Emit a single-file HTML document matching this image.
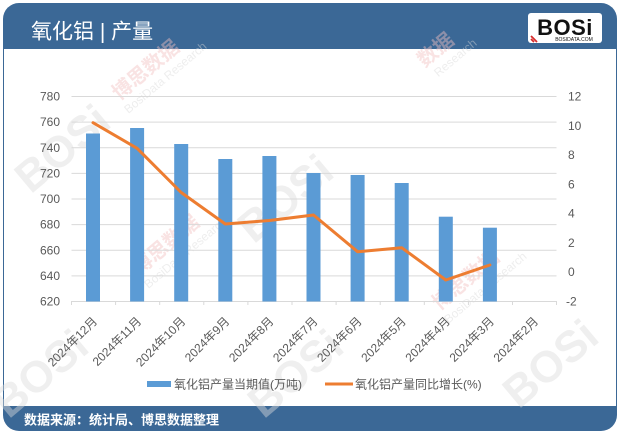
<!DOCTYPE html>
<html>
<head>
<meta charset="utf-8">
<style>
  html,body{margin:0;padding:0;background:#fff;}
  body{width:623px;height:434px;overflow:hidden;}
  svg{display:block;}
  text{font-family:"Liberation Sans","Noto Sans CJK SC",sans-serif;}
</style>
</head>
<body>
<svg width="623" height="434" viewBox="0 0 623 434" xmlns="http://www.w3.org/2000/svg">
  <!-- card -->
  <rect x="3" y="3" width="614" height="428" rx="16" ry="16" fill="#3b6896"/>
  <rect x="4" y="49" width="612" height="357" fill="#ffffff"/>

  <!-- watermarks -->
  <g opacity="0.45">
    <g transform="translate(72,160) rotate(-40)">
      <text x="0" y="0" font-size="44" font-weight="bold" fill="#dcdcdc" text-anchor="middle">BOSi</text>
    </g>
    <g transform="translate(150,75) rotate(-40)">
      <text x="0" y="0" font-size="20" font-weight="bold" fill="#f2c0c0" text-anchor="middle">博思数据</text>
      <text x="10" y="16" font-size="12" fill="#d8d8d8" text-anchor="middle" font-family="Liberation Serif">BosiData Research</text>
    </g>
    <g transform="translate(295,210) rotate(-40)">
      <text x="0" y="0" font-size="44" font-weight="bold" fill="#dcdcdc" text-anchor="middle">BOSi</text>
    </g>
    <g transform="translate(440,55) rotate(-40)">
      <text x="0" y="0" font-size="20" font-weight="bold" fill="#f2c0c0" text-anchor="middle">数据</text>
      <text x="10" y="16" font-size="12" fill="#d8d8d8" text-anchor="middle" font-family="Liberation Serif">Research</text>
    </g>
    <g transform="translate(170,250) rotate(-40)">
      <text x="0" y="0" font-size="20" font-weight="bold" fill="#f2c0c0" text-anchor="middle">博思数据</text>
      <text x="10" y="16" font-size="12" fill="#d8d8d8" text-anchor="middle" font-family="Liberation Serif">BosiData Research</text>
    </g>
    <g transform="translate(470,285) rotate(-40)">
      <text x="0" y="0" font-size="20" font-weight="bold" fill="#f2c0c0" text-anchor="middle">博思数据</text>
      <text x="10" y="16" font-size="12" fill="#d8d8d8" text-anchor="middle" font-family="Liberation Serif">BosiData Research</text>
    </g>
    <g transform="translate(50,385) rotate(-40)">
      <text x="0" y="0" font-size="44" font-weight="bold" fill="#dcdcdc" text-anchor="middle">BOSi</text>
    </g>
    <g transform="translate(305,385) rotate(-40)">
      <text x="0" y="0" font-size="44" font-weight="bold" fill="#dcdcdc" text-anchor="middle">BOSi</text>
    </g>
    <g transform="translate(560,375) rotate(-40)">
      <text x="0" y="0" font-size="44" font-weight="bold" fill="#dcdcdc" text-anchor="middle">BOSi</text>
    </g>
  </g>

  <!-- header title -->
  <text x="31" y="38.5" font-size="21" fill="#ffffff">氧化铝 | 产量</text>

  <!-- logo -->
  <rect x="528" y="13" width="74" height="30" rx="3" fill="#ffffff"/>
  <text x="565" y="35" font-size="22" font-weight="bold" fill="#111" text-anchor="middle" font-family="Liberation Sans" letter-spacing="0.5">BOSi</text>
  <text x="574" y="41" font-size="5" fill="#111" text-anchor="middle" font-family="Liberation Sans">BOSIDATA.COM</text>
  <line x1="531" y1="36" x2="537" y2="42" stroke="#d62b2b" stroke-width="1.8"/>
  <line x1="531" y1="39" x2="534" y2="42" stroke="#d62b2b" stroke-width="1.8"/>

  <!-- gridlines -->
  <g stroke="#d9d9d9" stroke-width="1">
    <line x1="71.5" y1="96.5" x2="556.5" y2="96.5"/>
    <line x1="71.5" y1="122.1" x2="556.5" y2="122.1"/>
    <line x1="71.5" y1="147.8" x2="556.5" y2="147.8"/>
    <line x1="71.5" y1="173.4" x2="556.5" y2="173.4"/>
    <line x1="71.5" y1="199" x2="556.5" y2="199"/>
    <line x1="71.5" y1="224.6" x2="556.5" y2="224.6"/>
    <line x1="71.5" y1="250.3" x2="556.5" y2="250.3"/>
    <line x1="71.5" y1="275.9" x2="556.5" y2="275.9"/>
    <line x1="71.5" y1="301.5" x2="556.5" y2="301.5"/>
  </g>
  <!-- x ticks -->
  <g stroke="#d9d9d9" stroke-width="1">
    <line x1="71.5" y1="301" x2="71.5" y2="305"/>
    <line x1="115.6" y1="301" x2="115.6" y2="305"/>
    <line x1="159.7" y1="301" x2="159.7" y2="305"/>
    <line x1="203.8" y1="301" x2="203.8" y2="305"/>
    <line x1="247.9" y1="301" x2="247.9" y2="305"/>
    <line x1="292" y1="301" x2="292" y2="305"/>
    <line x1="336.1" y1="301" x2="336.1" y2="305"/>
    <line x1="380.2" y1="301" x2="380.2" y2="305"/>
    <line x1="424.3" y1="301" x2="424.3" y2="305"/>
    <line x1="468.4" y1="301" x2="468.4" y2="305"/>
    <line x1="512.5" y1="301" x2="512.5" y2="305"/>
    <line x1="556.5" y1="301" x2="556.5" y2="305"/>
  </g>

  <!-- left axis labels -->
  <g font-size="12" fill="#595959" text-anchor="end">
    <text x="60" y="100.5">780</text>
    <text x="60" y="126.1">760</text>
    <text x="60" y="151.8">740</text>
    <text x="60" y="177.4">720</text>
    <text x="60" y="203">700</text>
    <text x="60" y="228.6">680</text>
    <text x="60" y="254.3">660</text>
    <text x="60" y="279.9">640</text>
    <text x="60" y="305.5">620</text>
  </g>
  <!-- right axis labels -->
  <g font-size="12" fill="#595959" text-anchor="start">
    <text x="568" y="100.5">12</text>
    <text x="568" y="129.8">10</text>
    <text x="568" y="159.1">8</text>
    <text x="568" y="188.4">6</text>
    <text x="568" y="217.6">4</text>
    <text x="568" y="246.9">2</text>
    <text x="568" y="276.2">0</text>
    <text x="566" y="305.5">-2</text>
  </g>

  <!-- bars -->
  <g fill="#5b9bd5">
    <rect x="86" y="133.5" width="14" height="168"/>
    <rect x="130.1" y="128" width="14" height="173.5"/>
    <rect x="174.2" y="144" width="14" height="157.5"/>
    <rect x="218.3" y="159" width="14" height="142.5"/>
    <rect x="262.4" y="156" width="14" height="145.5"/>
    <rect x="306.5" y="173" width="14" height="128.5"/>
    <rect x="350.6" y="175" width="14" height="126.5"/>
    <rect x="394.7" y="183" width="14" height="118.5"/>
    <rect x="438.8" y="216.7" width="14" height="84.8"/>
    <rect x="482.9" y="227.7" width="14" height="73.8"/>
  </g>

  <!-- line -->
  <polyline fill="none" stroke="#ed7d31" stroke-width="3" stroke-linejoin="round" stroke-linecap="round"
    points="93,122.7 137.1,148.3 181.2,192.5 225.3,224 269.4,220.5 313.5,215 357.6,251.7 401.7,247.7 445.8,280 489.9,265"/>

  <!-- x labels -->
  <g font-size="12" fill="#595959" text-anchor="end">
    <text transform="translate(98,322) rotate(-45)">2024年12月</text>
    <text transform="translate(142.1,322) rotate(-45)">2024年11月</text>
    <text transform="translate(186.2,322) rotate(-45)">2024年10月</text>
    <text transform="translate(230.3,322) rotate(-45)">2024年9月</text>
    <text transform="translate(274.4,322) rotate(-45)">2024年8月</text>
    <text transform="translate(318.5,322) rotate(-45)">2024年7月</text>
    <text transform="translate(362.6,322) rotate(-45)">2024年6月</text>
    <text transform="translate(406.7,322) rotate(-45)">2024年5月</text>
    <text transform="translate(450.8,322) rotate(-45)">2024年4月</text>
    <text transform="translate(494.9,322) rotate(-45)">2024年3月</text>
    <text transform="translate(539,322) rotate(-45)">2024年2月</text>
  </g>

  <!-- legend -->
  <rect x="147" y="381" width="24" height="6" fill="#5b9bd5"/>
  <text x="174" y="388.5" font-size="12" fill="#595959">氧化铝产量当期值(万吨)</text>
  <line x1="325" y1="384" x2="353" y2="384" stroke="#ed7d31" stroke-width="3"/>
  <text x="355" y="388.5" font-size="12" fill="#595959">氧化铝产量同比增长(%)</text>

  <!-- footer text -->
  <text x="24" y="424.5" font-size="13" font-weight="bold" fill="#ffffff">数据来源：统计局、博思数据整理</text>
</svg>
</body>
</html>
